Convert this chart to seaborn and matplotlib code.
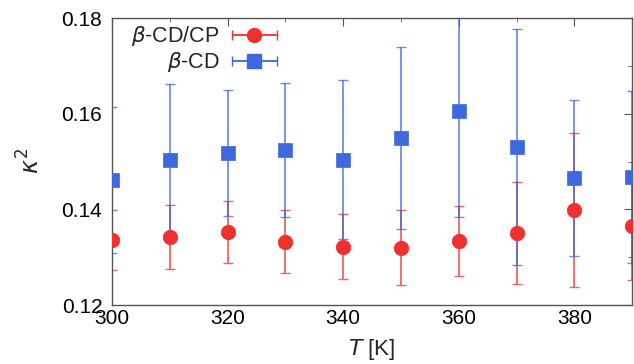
import numpy as np
import pandas as pd
import seaborn as sns
import matplotlib.pyplot as plt
from matplotlib.ticker import MultipleLocator
from matplotlib.legend_handler import HandlerErrorbar

# data
temps = [300, 310, 320, 330, 340, 350, 360, 370, 380, 390]
kappa_cdcp = [0.1336, 0.1342, 0.1352, 0.1332, 0.1322, 0.1320, 0.1334, 0.1350, 0.1399, 0.1365]
err_cdcp = [0.0063, 0.0067, 0.0065, 0.0066, 0.0068, 0.0078, 0.0074, 0.0107, 0.0161, 0.0113]
kappa_cd = [0.1461, 0.1503, 0.1518, 0.1524, 0.1504, 0.1549, 0.1606, 0.1530, 0.1465, 0.1467]
err_cd = [0.0153, 0.0159, 0.0131, 0.0140, 0.0166, 0.0190, 0.0222, 0.0247, 0.0163, 0.0180]

labels = [r'$\beta$-CD/CP', r'$\beta$-CD']
colors = ['#ee3030', '#3f67e0']

df = pd.DataFrame({
    'T': temps * 2,
    'kappa': kappa_cdcp + kappa_cd,
    'err': err_cdcp + err_cd,
    'system': [labels[0]] * len(temps) + [labels[1]] * len(temps),
})

sns.set_style('white')
plt.rcParams['font.family'] = ['Liberation Sans', 'DejaVu Sans']
plt.rcParams['mathtext.fontset'] = 'dejavusans'

fig = plt.figure(figsize=(6.34, 3.64), dpi=100)
ax = fig.add_axes([0.1767, 0.162, 0.8203, 0.7885])

markers = ['o', 's']
for lab, col, mk in zip(labels, colors, markers):
    d = df[df['system'] == lab]
    ax.errorbar(d['T'], d['kappa'], yerr=d['err'], fmt='none', ecolor=col,
                elinewidth=1.3, capsize=3.5, capthick=1.0, alpha=0.75, zorder=2)
    sns.scatterplot(x=d['T'], y=d['kappa'], color=col, marker=mk, s=110,
                    edgecolor=col, linewidth=0.5, ax=ax, zorder=3, legend=False)

# legend proxies with horizontal error bars (gnuplot style)
handles = []
for lab, col, mk in zip(labels, colors, markers):
    h = ax.errorbar([np.nan], [np.nan], xerr=[1], fmt=mk, color=col, ecolor=col,
                    markersize=10, elinewidth=1.3, capsize=3.5, label=lab)
    handles.append(h)
ax.legend(handles=handles, loc='upper left', bbox_to_anchor=(0.0, 1.045),
          frameon=False, markerfirst=False, fontsize=15.5, handlelength=2.2,
          handletextpad=0.5, labelspacing=0.08,
          handler_map={type(handles[0]): HandlerErrorbar(xerr_size=1.05)})

ax.set_xlim(300, 390)
ax.set_ylim(0.12, 0.18)
ax.xaxis.set_major_locator(MultipleLocator(20))
ax.xaxis.set_minor_locator(MultipleLocator(10))
ax.yaxis.set_major_locator(MultipleLocator(0.02))
ax.yaxis.set_minor_locator(MultipleLocator(0.01))
ax.set_yticklabels(['%.2f' % v for v in ax.get_yticks()])
ax.tick_params(which='both', direction='in', top=True, right=True,
               labelsize=15, colors='#555555', labelcolor='black')
ax.tick_params(which='major', length=6, pad=7)
ax.tick_params(axis='x', which='major', pad=3)
ax.tick_params(which='minor', length=3)
for s in ax.spines.values():
    s.set_color('#555555')
    s.set_linewidth(1.0)

ax.set_xlabel(r'$T$ [K]', fontsize=16, labelpad=6)
ax.set_ylabel(r'$\kappa^2$', fontsize=17, labelpad=12)

fig.savefig('out.png', dpi=100)
